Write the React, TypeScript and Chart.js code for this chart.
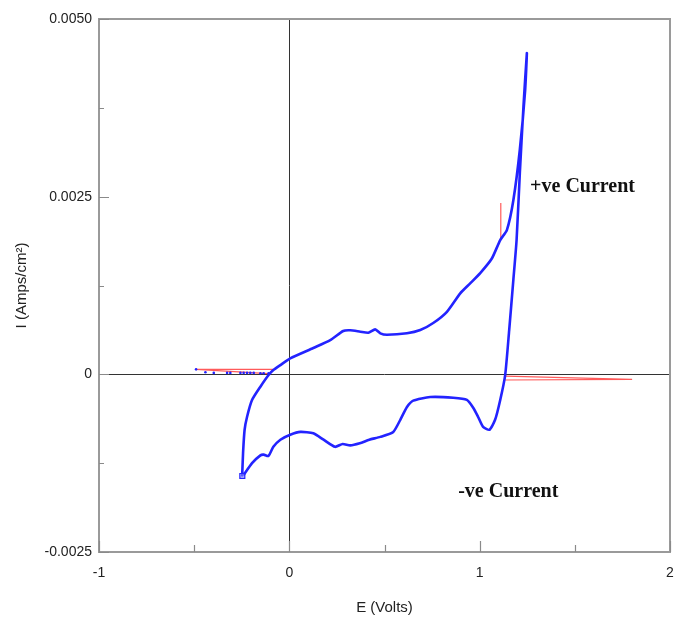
import React, { useEffect, useRef } from "react";
import { Chart, registerables } from "chart.js";

Chart.register(...registerables);

// Cyclic scan (blue), in scan order: start marker -> anodic branch -> reversal -> cathodic branch
const scanE = [
  -0.248, -0.243, -0.235, -0.222, -0.196, -0.152, -0.109, -0.084, -0.047, 0.005, 0.126, 0.215, 0.283, 0.32, 0.373,
  0.415, 0.451, 0.478, 0.513, 0.618, 0.688, 0.756, 0.828, 0.898, 0.95, 1.003, 1.064, 1.108, 1.143, 1.177,
  1.211, 1.239, 1.248,
  1.23, 1.211, 1.194, 1.177, 1.155, 1.134, 1.108, 1.081, 1.051, 1.018, 0.992, 0.966, 0.933, 0.861, 0.74,
  0.651, 0.618, 0.583, 0.546, 0.478, 0.42, 0.37, 0.32, 0.28, 0.24, 0.18, 0.126, 0.058, 0.005, -0.047, -0.084,
  -0.11, -0.135, -0.152, -0.196, -0.241,
];
const scanI = [
  -0.00144, -0.0011, -0.00078, -0.000597, -0.000362, -0.000174, -0.00001, 0.00006, 0.00013, 0.000225, 0.00037,
  0.00048, 0.00061, 0.00062, 0.0006, 0.000585, 0.000633, 0.000577, 0.000557, 0.000577, 0.000623, 0.000722,
  0.00088, 0.00114, 0.00128, 0.001425, 0.00163, 0.00189, 0.00203, 0.00245, 0.00316, 0.004, 0.00452,
  0.003765, 0.00283, 0.00189, 0.00133, 0.00062, -0.00001, -0.00036, -0.00064, -0.00078, -0.00074, -0.0006,
  -0.00047, -0.00036, -0.00033, -0.00032, -0.00037, -0.00046, -0.00064, -0.00081, -0.00088, -0.00092,
  -0.00097, -0.001, -0.00098, -0.00102, -0.00092, -0.00083, -0.00081, -0.00085, -0.00092, -0.00102,
  -0.00115, -0.00113, -0.00114, -0.00125, -0.00142,
];

// Blue dots along the initial flat segment
const flatE = [-0.49, -0.441, -0.397, -0.327, -0.31, -0.257, -0.24, -0.222, -0.205, -0.187, -0.152, -0.135, -0.109];
const flatI = [0.00007, 0.00003, 0.00002, 0.00002, 0.00002, 0.00002, 0.00002, 0.00002, 0.00002, 0.00002, 0.000015, 0.000015, 0.000015];

// Red traces
const redLeftE = [-0.49, -0.083, -0.083, -0.49, -0.11];
const redLeftI = [0.00007, 0.00007, 0.00007, 0.00007, 0.00001];
const redRightE = [1.134, 1.801, 1.134];
const redRightI = [-0.000024, -0.00007, -0.00008];
const redSpikeE = [1.111, 1.111];
const redSpikeI = [0.00189, 0.00241];

// Start marker
const startE = [-0.247];
const startI = [-0.00143];

// Axis ticks
const xMajorTicks = [-1, 0, 1, 2];
const xMinorTicks = [-0.5, 0.5, 1.5];
const yMajorTicks = [-0.0025, 0, 0.0025, 0.005];
const yMinorTicks = [-0.00125, 0.00125, 0.00375];

// Annotations
const notes = [
  { text: "+ve Current", e: 1.265, i: 0.00264 },
  { text: "-ve Current", e: 0.887, i: -0.00166 },
];

const zip = (xs: number[], ys: number[]) => xs.map((x, k) => ({ x, y: ys[k] }));

const BLUE = "#2323ff";
const RED = "#ff5a5a";

const decor = {
  id: "decor",
  beforeDatasetsDraw(chart: any) {
    const { ctx, chartArea: a, scales } = chart;
    const x0 = Math.round(scales.x.getPixelForValue(0)) + 0.5;
    const y0 = Math.round(scales.y.getPixelForValue(0)) + 0.5;
    ctx.save();
    ctx.strokeStyle = "#333";
    ctx.lineWidth = 1;
    ctx.beginPath();
    ctx.moveTo(x0, a.top);
    ctx.lineTo(x0, a.bottom);
    ctx.moveTo(a.left, y0);
    ctx.lineTo(a.right, y0);
    ctx.stroke();
    ctx.restore();
  },
  afterDatasetsDraw(chart: any) {
    const { ctx, chartArea: a, scales } = chart;
    ctx.save();
    ctx.strokeStyle = "#9a9a9a";
    ctx.lineWidth = 2;
    ctx.strokeRect(a.left, a.top, a.right - a.left, a.bottom - a.top);
    ctx.lineWidth = 1.2;
    ctx.strokeStyle = "#8a8a8a";
    ctx.beginPath();
    yMajorTicks.forEach((v) => {
      const y = Math.round(scales.y.getPixelForValue(v)) + 0.5;
      ctx.moveTo(a.left, y);
      ctx.lineTo(a.left + 10, y);
    });
    yMinorTicks.forEach((v) => {
      const y = Math.round(scales.y.getPixelForValue(v)) + 0.5;
      ctx.moveTo(a.left, y);
      ctx.lineTo(a.left + 5, y);
    });
    xMajorTicks.forEach((v) => {
      const x = Math.round(scales.x.getPixelForValue(v)) + 0.5;
      ctx.moveTo(x, a.bottom);
      ctx.lineTo(x, a.bottom - 11);
    });
    xMinorTicks.forEach((v) => {
      const x = Math.round(scales.x.getPixelForValue(v)) + 0.5;
      ctx.moveTo(x, a.bottom);
      ctx.lineTo(x, a.bottom - 7);
    });
    ctx.stroke();
    ctx.fillStyle = "#111";
    ctx.font = "bold 20px 'Liberation Serif', 'Times New Roman', serif";
    ctx.textBaseline = "middle";
    ctx.textAlign = "left";
    notes.forEach((n) => {
      ctx.fillText(n.text, scales.x.getPixelForValue(n.e), scales.y.getPixelForValue(n.i));
    });
    ctx.restore();
  },
};

export default function App() {
  const ref = useRef<HTMLCanvasElement | null>(null);
  useEffect(() => {
    if (!ref.current) return;
    const chart = new Chart(ref.current, {
      type: "scatter",
      data: {
        datasets: [
          {
            data: zip(startE, startI),
            pointStyle: "rect",
            pointRadius: 3.5,
            borderColor: BLUE,
            backgroundColor: "rgba(150,150,255,0.5)",
            borderWidth: 1.2,
            showLine: false,
            order: 0,
          },
          {
            data: zip(scanE, scanI),
            showLine: true,
            borderColor: BLUE,
            borderWidth: 2.6,
            pointRadius: 0,
            tension: 0.2,
            order: 1,
          },
          {
            data: zip(flatE, flatI),
            showLine: false,
            pointRadius: 1.3,
            backgroundColor: BLUE,
            borderWidth: 0,
            order: 1,
          },
          {
            data: zip(redLeftE, redLeftI),
            showLine: true,
            borderColor: RED,
            borderWidth: 1.2,
            pointRadius: 0,
            order: 2,
          },
          {
            data: zip(redRightE, redRightI),
            showLine: true,
            borderColor: RED,
            borderWidth: 1.2,
            pointRadius: 0,
            order: 2,
          },
          {
            data: zip(redSpikeE, redSpikeI),
            showLine: true,
            borderColor: RED,
            borderWidth: 1.2,
            pointRadius: 0,
            order: 2,
          },
        ],
      },
      options: {
        responsive: true,
        maintainAspectRatio: false,
        animation: false,
        events: [],
        layout: { padding: { top: 19, right: 8, left: 0, bottom: 0 } },
        plugins: { legend: { display: false }, tooltip: { enabled: false } },
        scales: {
          x: {
            type: "linear",
            min: -1,
            max: 2,
            grid: { display: false, drawTicks: false },
            border: { display: false },
            ticks: {
              stepSize: 1,
              padding: 13,
              color: "#222",
              font: { family: "'Liberation Sans', Arial, sans-serif", size: 14 },
            },
            title: {
              display: true,
              text: "E (Volts)",
              color: "#222",
              font: { family: "'Liberation Sans', Arial, sans-serif", size: 15, lineHeight: 1.77 },
            },
            afterFit: (s: any) => {
              s.height = 73;
              s.paddingLeft = 0;
              s.paddingRight = 0;
            },
          },
          y: {
            type: "linear",
            min: -0.0025,
            max: 0.005,
            grid: { display: false, drawTicks: false },
            border: { display: false },
            ticks: {
              stepSize: 0.0025,
              padding: 7,
              color: "#222",
              font: { family: "'Liberation Sans', Arial, sans-serif", size: 14 },
              callback: (v: any) => (Math.abs(v) < 1e-12 ? "0" : Number(v).toFixed(4)),
            },
            title: {
              display: true,
              text: "I (Amps/cm²)",
              color: "#222",
              font: { family: "'Liberation Sans', Arial, sans-serif", size: 15, lineHeight: 2.4 },
            },
            afterFit: (s: any) => {
              s.width = 99;
              s.paddingTop = 0;
              s.paddingBottom = 0;
            },
          },
        },
      },
      plugins: [decor],
    });
    return () => chart.destroy();
  }, []);
  return (
    <div style={{ position: "fixed", left: 0, top: 0, width: 678, height: 625, background: "#fff" }}>
      <canvas ref={ref} />
    </div>
  );
}
